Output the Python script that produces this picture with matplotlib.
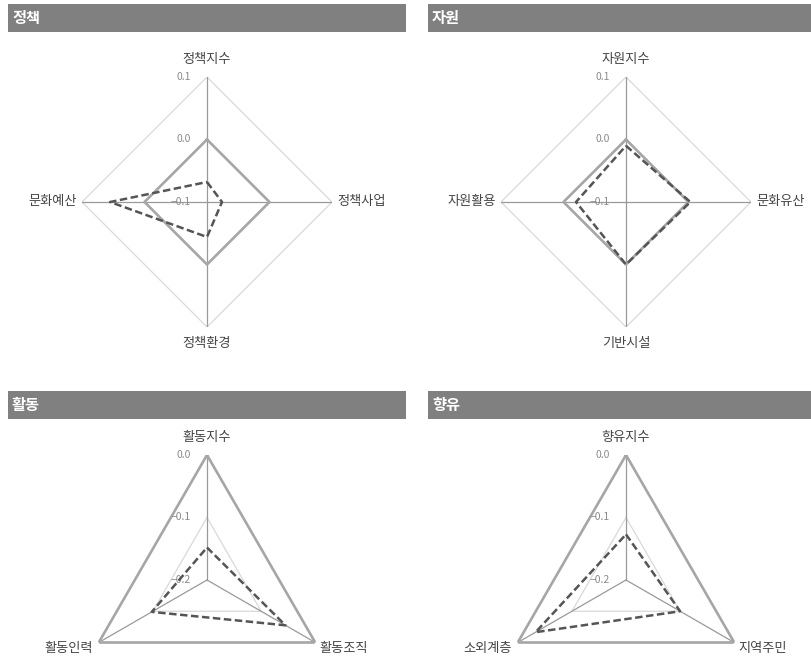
import numpy as np
import matplotlib
matplotlib.use('Agg')
from matplotlib import pyplot as plt
from matplotlib.patches import Rectangle

plt.rcParams['font.family'] = ['Noto Sans CJK KR', 'DejaVu Sans']

# values (light solid = baseline, dashed = region)
policy_title = '정책'
policy_labels = ['정책지수', '정책사업', '정책환경', '문화예산']
policy_base = [0.0, 0.0, 0.0, 0.0]
policy_region = [-0.068, -0.076, -0.044, 0.055]

resource_title = '자원'
resource_labels = ['자원지수', '문화유산', '기반시설', '자원활용']
resource_base = [0.0, 0.0, 0.0, 0.0]
resource_region = [-0.010, 0.003, 0.0, -0.020]

activity_title = '활동'
activity_labels = ['활동지수', '활동조직', '활동인력']
activity_base = [0.0, 0.0, 0.0]
activity_region = [-0.148, -0.055, -0.098]

enjoy_title = '향유'
enjoy_labels = ['향유지수', '지역주민', '소외계층']
enjoy_base = [0.0, 0.0, 0.0]
enjoy_region = [-0.127, -0.100, -0.033]

top_ticks = [0.1, 0.0, -0.1]
bottom_ticks = [0.0, -0.1, -0.2]

W, H = 812, 657
fig = plt.figure(figsize=(W / 100, H / 100), dpi=100)
fig.patch.set_facecolor('white')


def header(x0, x1, y0, y1, title):
    fig.add_artist(Rectangle((x0 / W, 1 - y1 / H), (x1 - x0) / W, (y1 - y0) / H,
                             transform=fig.transFigure, facecolor='#808080', edgecolor='none'))
    fig.text((x0 + 4) / W, 1 - (y0 + y1) / 2 / H, title, color='white', fontsize=11,
             fontweight='bold', va='center', ha='left')


def closed(vals):
    return list(vals) + [vals[0]]


def radar(cx, cy, rad, labels, base, region, ticks, grid_levels):
    ax = fig.add_axes([(cx - rad) / W, 1 - (cy + rad) / H, 2 * rad / W, 2 * rad / H],
                      projection='polar')
    ax.set_theta_zero_location('N')
    ax.set_theta_direction(-1)
    rmin, rmax = min(ticks), max(ticks)
    ax.set_rlim(rmin, rmax)
    ax.grid(False)
    ax.set_xticks([])
    ax.set_yticks([])
    ax.spines['polar'].set_visible(False)
    ax.patch.set_alpha(0)

    n = len(labels)
    theta = np.arange(n) * 2 * np.pi / n

    for lev in grid_levels:
        ax.plot(closed(theta), [lev] * (n + 1), color='#d9d9d9', lw=0.9, zorder=1)
    for t in theta:
        ax.plot([t, t], [rmin, rmax], color='#9a9a9a', lw=0.9, zorder=2)

    ax.plot(closed(theta), closed(base), color='#a6a6a6', lw=1.9, zorder=3)
    ax.plot(closed(theta), closed(region), color='#555555', lw=1.8,
            dashes=(3.0, 1.4), zorder=4)

    for v in ticks:
        ax.annotate('{:.1f}'.format(v).replace('-', '\u2212'), (0, v),
                    xytext=(-16, 0), textcoords='offset pixels',
                    ha='right', va='center', fontsize=7.5, color='#8a8a8a',
                    annotation_clip=False)

    for t, lab in zip(theta, labels):
        s, c = np.sin(t), np.cos(t)
        if abs(s) < 0.01:
            off = (0, 18) if c > 0 else (0, -17)
            ha = 'center'
        elif abs(c) < 0.01:
            off = (5, 0) if s > 0 else (-5, 0)
            ha = 'left' if s > 0 else 'right'
        else:
            off = (4, -6) if s > 0 else (-6, -6)
            ha = 'left' if s > 0 else 'right'
        ax.annotate(lab, (t, rmax), xytext=off, textcoords='offset pixels',
                    ha=ha, va='center', fontsize=9.5, color='#444444',
                    annotation_clip=False)
    return ax


header(8, 406, 4, 32, policy_title)
header(428, 812, 4, 32, resource_title)
header(8, 406, 391, 419, activity_title)
header(428, 812, 391, 419, enjoy_title)

radar(207, 202, 125, policy_labels, policy_base, policy_region, top_ticks, [0.1])
radar(626, 202, 125, resource_labels, resource_base, resource_region, top_ticks, [0.1])
radar(207, 580, 125, activity_labels, activity_base, activity_region, bottom_ticks, [-0.1, 0.0])
radar(626, 580, 125, enjoy_labels, enjoy_base, enjoy_region, bottom_ticks, [-0.1, 0.0])

fig.savefig('out.png', dpi=100)
